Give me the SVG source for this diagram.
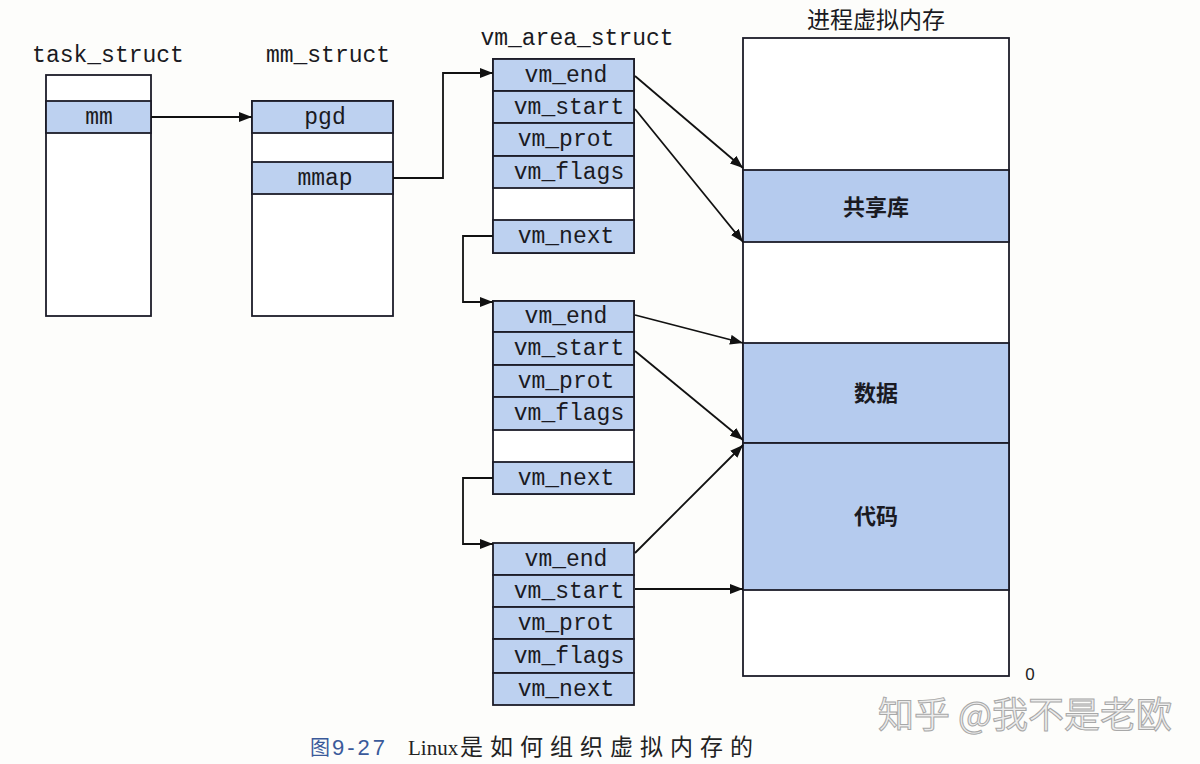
<svg xmlns="http://www.w3.org/2000/svg" width="1200" height="764" viewBox="0 0 1200 764">
<style>
.bg{fill:#fdfdfb}
.box{fill:#ffffff;stroke:#1c1c28;stroke-width:1.8}
.f{fill:#bdd1f0;stroke:#1c1c28;stroke-width:1.8}
.band{fill:#b5cbee;stroke:#1c1c28;stroke-width:1.8}
.mono{font-family:"Liberation Mono","DejaVu Sans Mono",monospace;font-size:23px;fill:#1a1a22}
.t{text-anchor:middle}
.cjk{font-family:"Noto Sans CJK SC","Noto Sans",sans-serif;font-size:22px;font-weight:bold;fill:#1a1a22;text-anchor:middle}
.ln{fill:none;stroke:#111;stroke-width:1.8}
.cap{font-family:"Liberation Serif","Noto Sans CJK SC",serif;font-size:21px;fill:#222}
.wm{font-family:"Noto Sans CJK SC",sans-serif;font-size:36px;fill:#ededed;stroke:#a8a8a8;stroke-width:1}
</style>
<defs>
<marker id="ah" viewBox="0 0 13 10" refX="13" refY="5" markerWidth="13" markerHeight="10" markerUnits="userSpaceOnUse" orient="auto">
<path d="M0,0 L13,5 L0,10 z" fill="#111"/>
</marker>
</defs>
<rect class="bg" x="0" y="0" width="1200" height="764"/>

<g id="task_struct">
<text class="mono t" x="108" y="62">task_struct</text>
<rect class="box" x="46" y="75" width="105" height="241"/>
<rect class="f" x="46" y="101" width="105" height="32"/>
<text class="mono t" x="99" y="124">mm</text>
</g>

<g id="mm_struct">
<text class="mono t" x="328" y="62">mm_struct</text>
<rect class="box" x="252" y="101" width="141" height="215"/>
<rect class="f" x="252" y="101" width="141" height="32"/>
<text class="mono t" x="325" y="124">pgd</text>
<rect class="f" x="252" y="162" width="141" height="32"/>
<text class="mono t" x="325" y="185">mmap</text>
</g>

<g id="vm_area_1">
<text class="mono t" x="577" y="45">vm_area_struct</text>
<rect class="box" x="493" y="59" width="141" height="194"/>
<rect class="f" x="493" y="59" width="141" height="32"/>
<rect class="f" x="493" y="91" width="141" height="32"/>
<rect class="f" x="493" y="123" width="141" height="33"/>
<rect class="f" x="493" y="156" width="141" height="32"/>
<rect class="f" x="493" y="220" width="141" height="33"/>
<text class="mono t" x="566" y="82">vm_end</text>
<text class="mono t" x="569" y="114">vm_start</text>
<text class="mono t" x="566" y="146">vm_prot</text>
<text class="mono t" x="569" y="179">vm_flags</text>
<text class="mono t" x="566" y="243">vm_next</text>
</g>

<g id="vm_area_2">
<rect class="box" x="493" y="301" width="141" height="193"/>
<rect class="f" x="493" y="301" width="141" height="31"/>
<rect class="f" x="493" y="332" width="141" height="33"/>
<rect class="f" x="493" y="365" width="141" height="32"/>
<rect class="f" x="493" y="397" width="141" height="33"/>
<rect class="f" x="493" y="462" width="141" height="32"/>
<text class="mono t" x="566" y="323">vm_end</text>
<text class="mono t" x="569" y="355">vm_start</text>
<text class="mono t" x="566" y="388">vm_prot</text>
<text class="mono t" x="569" y="420">vm_flags</text>
<text class="mono t" x="566" y="485">vm_next</text>
</g>

<g id="vm_area_3">
<rect class="f" x="493" y="543" width="141" height="32"/>
<rect class="f" x="493" y="575" width="141" height="32"/>
<rect class="f" x="493" y="607" width="141" height="32"/>
<rect class="f" x="493" y="639" width="141" height="34"/>
<rect class="f" x="493" y="673" width="141" height="32"/>
<text class="mono t" x="566" y="566">vm_end</text>
<text class="mono t" x="569" y="598">vm_start</text>
<text class="mono t" x="566" y="630">vm_prot</text>
<text class="mono t" x="569" y="663">vm_flags</text>
<text class="mono t" x="566" y="696">vm_next</text>
</g>

<g id="process_vm">
<text class="cjk" x="876" y="28" style="font-weight:normal;font-size:23px">进程虚拟内存</text>
<rect class="box" x="743" y="38" width="266" height="638"/>
<rect class="band" x="743" y="170" width="266" height="72"/>
<rect class="band" x="743" y="343" width="266" height="100"/>
<rect class="band" x="743" y="443" width="266" height="147"/>
<text class="cjk" x="876" y="215">共享库</text>
<text class="cjk" x="876" y="401">数据</text>
<text class="cjk" x="876" y="524">代码</text>
<text x="1030" y="680" style="font-family:'Liberation Sans',sans-serif;font-size:17px;fill:#222;text-anchor:middle">0</text>
</g>

<g id="connectors">
<path class="ln" d="M151,117 H252" marker-end="url(#ah)"/>
<path class="ln" d="M393,178 H443 V73 H493" marker-end="url(#ah)"/>
<path class="ln" d="M493,236 H463 V302 H493" marker-end="url(#ah)"/>
<path class="ln" d="M493,478 H463 V544 H493" marker-end="url(#ah)"/>
<path class="ln" d="M635,76 L743,168" marker-end="url(#ah)"/>
<path class="ln" d="M635,109 L743,242" marker-end="url(#ah)"/>
<path class="ln" d="M635,315 L743,343" marker-end="url(#ah)"/>
<path class="ln" d="M635,351 L743,440" marker-end="url(#ah)"/>
<path class="ln" d="M635,553 L743,445" marker-end="url(#ah)"/>
<path class="ln" d="M635,589 H743" marker-end="url(#ah)"/>
</g>

<g id="caption">
<text class="cap" x="310" y="755"><tspan fill="#3a5a9a" style="font-family:'Noto Sans CJK SC',sans-serif;font-size:20px">图</tspan><tspan x="332" fill="#3a5a9a" letter-spacing="3" style="font-family:'Liberation Sans',sans-serif;font-size:22px">9-27</tspan><tspan x="408">Linux</tspan><tspan x="460" letter-spacing="7" style="font-size:23px">是如何组织虚拟内存的</tspan></text>
</g>
<text class="wm" x="878" y="728">知乎 @我不是老欧</text>
</svg>
